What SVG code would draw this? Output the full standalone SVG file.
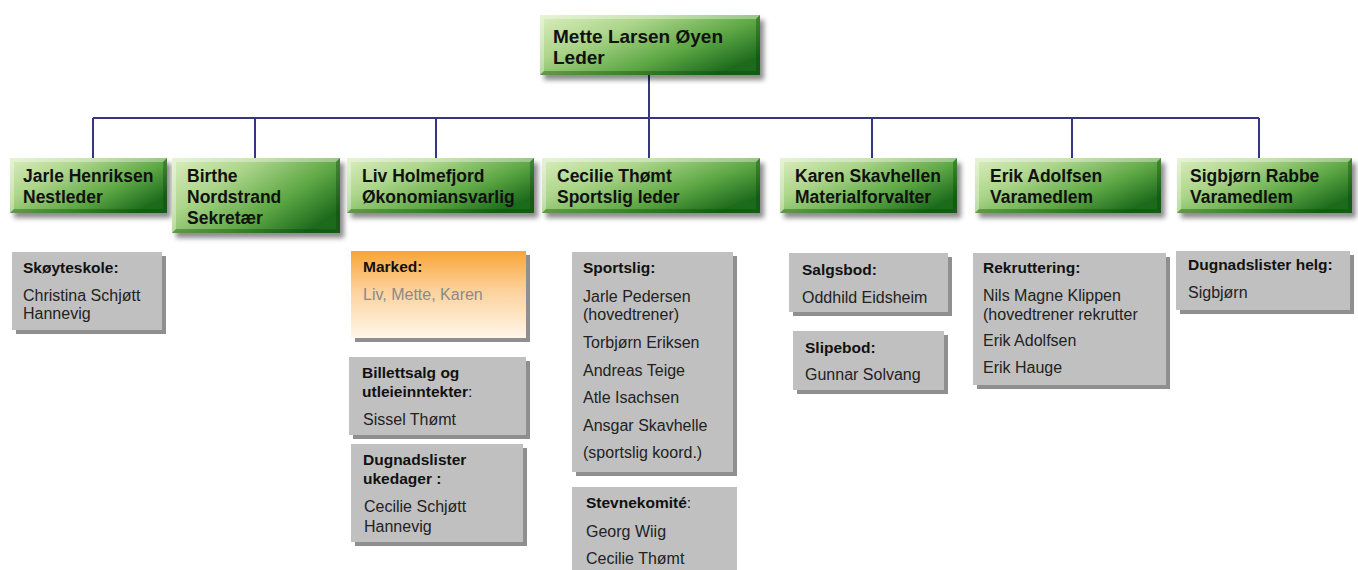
<svg xmlns="http://www.w3.org/2000/svg" width="1358" height="570" viewBox="0 0 1358 570">
<defs>
<linearGradient id="green" x1="0" y1="0" x2="1" y2="0.7">
<stop offset="0" stop-color="#dbeebf"/>
<stop offset="0.35" stop-color="#acd58a"/>
<stop offset="0.7" stop-color="#5ea845"/>
<stop offset="1" stop-color="#1d6b1d"/>
</linearGradient>
<linearGradient id="orange" x1="0" y1="0" x2="0" y2="1">
<stop offset="0" stop-color="#f9a536"/>
<stop offset="0.45" stop-color="#fcd19a"/>
<stop offset="1" stop-color="#fff6ea"/>
</linearGradient>
<filter id="shadow" x="-10%" y="-20%" width="125%" height="150%">
<feDropShadow dx="4" dy="5" stdDeviation="2.5" flood-color="#000" flood-opacity="0.45"/>
</filter>
</defs>
<style>
.box{fill:url(#green);filter:url(#shadow);}
.hi{fill:#ffffff;fill-opacity:0.35;}
.lo{fill:#0a3f0a;fill-opacity:0.35;}
.t1{font-family:"Liberation Sans",Arial,sans-serif;font-weight:bold;font-size:19px;fill:#111;}
.t2{font-family:"Liberation Sans",Arial,sans-serif;font-weight:bold;font-size:17.5px;fill:#111;}
.sh{fill:#8f8f8f;}
.gb{fill:#c0c0c0;}
.ob{fill:url(#orange);}
.h{font-family:"Liberation Sans",Arial,sans-serif;font-weight:bold;font-size:15.5px;fill:#111;}
.n{font-family:"Liberation Sans",Arial,sans-serif;font-size:16px;fill:#222;}
.r{font-weight:normal;}
.g{fill:#8a8a8a;}
.conn{stroke:#353581;stroke-width:2;fill:none;}
</style>

<g id="connectors">
<path class="conn" d="M649 75V118M93 118H1259M93 118V158M255 118V158M436 118V158M649 118V158M872 118V158M1072 118V158M1259 118V158"/>
</g>

<g id="n-mette">
<rect class="box" x="540" y="15" width="220" height="60"/>
<polygon class="hi" points="540,15 760,15 756,19 544,19"/>
<polygon class="hi" points="540,15 544,19 544,71 540,75"/>
<polygon class="lo" points="540,75 544,71 756,71 760,75"/>
<polygon class="lo" points="760,15 760,75 756,71 756,19"/>
<text class="t1" x="553" y="43">Mette Larsen Øyen</text>
<text class="t1" x="553" y="64">Leder</text>
</g>

<g id="n-jarle">
<rect class="box" x="10" y="158" width="157" height="55"/>
<polygon class="hi" points="10,158 167,158 163,162 14,162"/>
<polygon class="hi" points="10,158 14,162 14,209 10,213"/>
<polygon class="lo" points="10,213 14,209 163,209 167,213"/>
<polygon class="lo" points="167,158 167,213 163,209 163,162"/>
<text class="t2" x="23" y="182">Jarle Henriksen</text>
<text class="t2" x="23" y="203">Nestleder</text>
</g>

<g id="n-birthe">
<rect class="box" x="172" y="158" width="168" height="75"/>
<polygon class="hi" points="172,158 340,158 336,162 176,162"/>
<polygon class="hi" points="172,158 176,162 176,229 172,233"/>
<polygon class="lo" points="172,233 176,229 336,229 340,233"/>
<polygon class="lo" points="340,158 340,233 336,229 336,162"/>
<text class="t2" x="187" y="182">Birthe</text>
<text class="t2" x="187" y="203">Nordstrand</text>
<text class="t2" x="187" y="224">Sekretær</text>
</g>

<g id="n-liv">
<rect class="box" x="347" y="158" width="187" height="55"/>
<polygon class="hi" points="347,158 534,158 530,162 351,162"/>
<polygon class="hi" points="347,158 351,162 351,209 347,213"/>
<polygon class="lo" points="347,213 351,209 530,209 534,213"/>
<polygon class="lo" points="534,158 534,213 530,209 530,162"/>
<text class="t2" x="362" y="182">Liv Holmefjord</text>
<text class="t2" x="362" y="203">Økonomiansvarlig</text>
</g>

<g id="n-cecilie">
<rect class="box" x="542" y="158" width="218" height="55"/>
<polygon class="hi" points="542,158 760,158 756,162 546,162"/>
<polygon class="hi" points="542,158 546,162 546,209 542,213"/>
<polygon class="lo" points="542,213 546,209 756,209 760,213"/>
<polygon class="lo" points="760,158 760,213 756,209 756,162"/>
<text class="t2" x="557" y="182">Cecilie Thømt</text>
<text class="t2" x="557" y="203">Sportslig leder</text>
</g>

<g id="n-karen">
<rect class="box" x="780" y="158" width="177" height="55"/>
<polygon class="hi" points="780,158 957,158 953,162 784,162"/>
<polygon class="hi" points="780,158 784,162 784,209 780,213"/>
<polygon class="lo" points="780,213 784,209 953,209 957,213"/>
<polygon class="lo" points="957,158 957,213 953,209 953,162"/>
<text class="t2" x="795" y="182">Karen Skavhellen</text>
<text class="t2" x="795" y="203">Materialforvalter</text>
</g>

<g id="n-erik">
<rect class="box" x="975" y="158" width="186" height="55"/>
<polygon class="hi" points="975,158 1161,158 1157,162 979,162"/>
<polygon class="hi" points="975,158 979,162 979,209 975,213"/>
<polygon class="lo" points="975,213 979,209 1157,209 1161,213"/>
<polygon class="lo" points="1161,158 1161,213 1157,209 1157,162"/>
<text class="t2" x="990" y="182">Erik Adolfsen</text>
<text class="t2" x="990" y="203">Varamedlem</text>
</g>

<g id="n-sigbjorn">
<rect class="box" x="1177" y="158" width="175" height="55"/>
<polygon class="hi" points="1177,158 1352,158 1348,162 1181,162"/>
<polygon class="hi" points="1177,158 1181,162 1181,209 1177,213"/>
<polygon class="lo" points="1177,213 1181,209 1348,209 1352,213"/>
<polygon class="lo" points="1352,158 1352,213 1348,209 1348,162"/>
<text class="t2" x="1190" y="182">Sigbjørn Rabbe</text>
<text class="t2" x="1190" y="203">Varamedlem</text>
</g>

<g id="b-skoyteskole">
<rect class="sh" x="16" y="256" width="150" height="78"/>
<rect class="gb" x="12" y="252" width="150" height="78"/>
<text class="h" x="23" y="273">Skøyteskole:</text>
<text class="n" x="23" y="301">Christina Schjøtt</text>
<text class="n" x="23" y="319">Hannevig</text>
</g>

<g id="b-marked">
<rect class="sh" x="355" y="255" width="175" height="87"/>
<rect class="ob" x="351" y="251" width="175" height="87"/>
<text class="h" x="363" y="272">Marked:</text>
<text class="n g" x="363" y="300">Liv, Mette, Karen</text>
</g>

<g id="b-billettsalg">
<rect class="sh" x="353" y="361" width="177" height="78"/>
<rect class="gb" x="349" y="357" width="177" height="78"/>
<text class="h" x="362" y="378">Billettsalg og</text>
<text class="h" x="362" y="397">utleieinntekter<tspan class="r">:</tspan></text>
<text class="n" x="363" y="425">Sissel Thømt</text>
</g>

<g id="b-dugnad-uke">
<rect class="sh" x="355" y="448" width="172" height="98"/>
<rect class="gb" x="351" y="444" width="172" height="98"/>
<text class="h" x="363" y="465">Dugnadslister</text>
<text class="h" x="363" y="484">ukedager :</text>
<text class="n" x="364" y="512">Cecilie Schjøtt</text>
<text class="n" x="364" y="532">Hannevig</text>
</g>

<g id="b-sportslig">
<rect class="sh" x="576" y="256" width="161" height="220"/>
<rect class="gb" x="572" y="252" width="161" height="220"/>
<text class="h" x="583" y="273">Sportslig:</text>
<text class="n" x="583" y="302">Jarle Pedersen</text>
<text class="n" x="583" y="320">(hovedtrener)</text>
<text class="n" x="583" y="348">Torbjørn Eriksen</text>
<text class="n" x="583" y="376">Andreas Teige</text>
<text class="n" x="583" y="403">Atle Isachsen</text>
<text class="n" x="583" y="431">Ansgar Skavhelle</text>
<text class="n" x="583" y="458">(sportslig koord.)</text>
</g>

<g id="b-stevne">
<rect class="gb" x="572" y="487" width="165" height="90"/>
<text class="h" x="586" y="508">Stevnekomité<tspan class="r">:</tspan></text>
<text class="n" x="586" y="537">Georg Wiig</text>
<text class="n" x="586" y="564">Cecilie Thømt</text>
</g>

<g id="b-salgsbod">
<rect class="sh" x="793" y="257" width="159" height="59"/>
<rect class="gb" x="789" y="253" width="159" height="59"/>
<text class="h" x="802" y="275">Salgsbod:</text>
<text class="n" x="802" y="303">Oddhild Eidsheim</text>
</g>

<g id="b-slipebod">
<rect class="sh" x="797" y="335" width="151" height="59"/>
<rect class="gb" x="793" y="331" width="151" height="59"/>
<text class="h" x="805" y="353">Slipebod:</text>
<text class="n" x="805" y="380">Gunnar Solvang</text>
</g>

<g id="b-rekruttering">
<rect class="sh" x="977" y="257" width="193" height="132"/>
<rect class="gb" x="973" y="253" width="193" height="132"/>
<text class="h" x="983" y="273">Rekruttering:</text>
<text class="n" x="983" y="301">Nils Magne Klippen</text>
<text class="n" x="983" y="320">(hovedtrener rekrutter</text>
<text class="n" x="983" y="346">Erik Adolfsen</text>
<text class="n" x="983" y="373">Erik Hauge</text>
</g>

<g id="b-dugnad-helg">
<rect class="sh" x="1180" y="255" width="174" height="59"/>
<rect class="gb" x="1176" y="251" width="174" height="59"/>
<text class="h" x="1188" y="270">Dugnadslister helg:</text>
<text class="n" x="1188" y="298">Sigbjørn</text>
</g>
</svg>
